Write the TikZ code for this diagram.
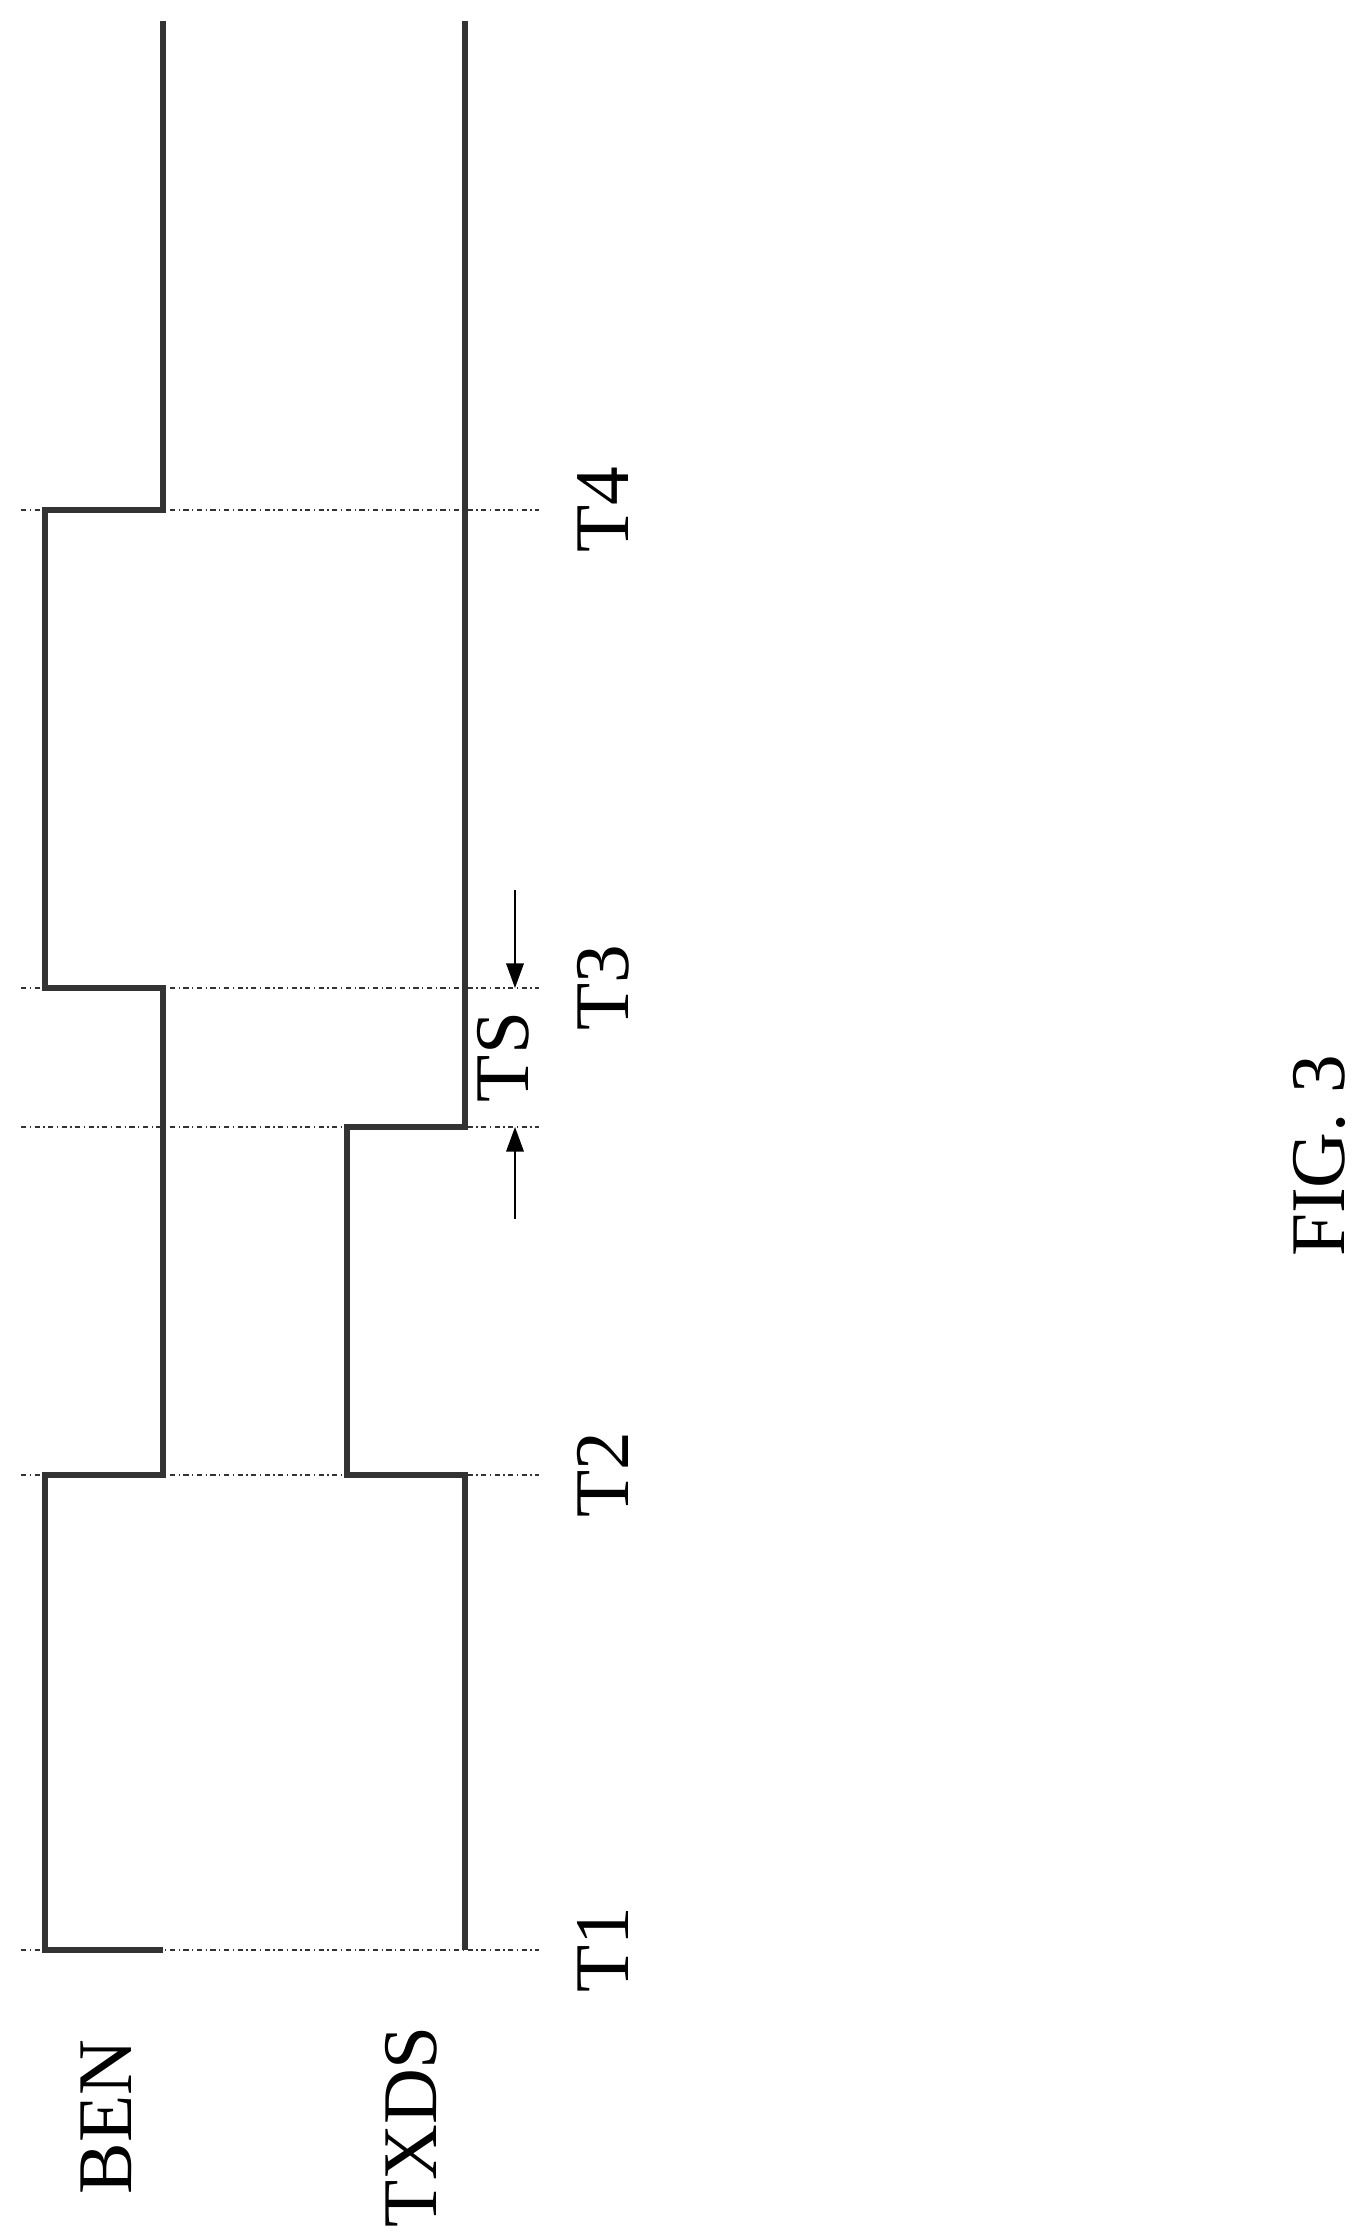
\documentclass[tikz,border=0pt]{standalone}
\usepackage{fontspec}
\setmainfont{Liberation Serif}
\usetikzlibrary{arrows.meta}

\begin{document}
\begin{tikzpicture}[x=0.2mm,y=-0.2mm]
    \tikzstyle{wave}=[line width=3.4pt,draw=black!80,line join=miter]
    \tikzstyle{timemark}=[line width=0.7pt,dash dot,draw=black!80]
    \tikzstyle{lbl}=[rotate=90,font=\fontsize{44}{44}\selectfont,inner sep=0pt]
    \tikzstyle{tsarrow}=[line width=0.9pt,-{Triangle[length=14pt,width=10pt]}]
    \useasboundingbox (0,0) rectangle (1361,2233);

    % time marks
    \foreach \name / \y in {T1/1950,T2/1475,T3/988,T4/510}{
        \draw[timemark] (21,\y) -- (539,\y);
        \node[lbl] (\name) at (603,\y) {\name};
    }
    \draw[timemark] (21,1127) -- (539,1127);

    % BEN waveform
    \draw[wave] (163,1950) -- (45,1950) -- (45,1475) -- (163,1475) -- (163,988)
        -- (45,988) -- (45,510) -- (163,510) -- (163,21);

    % TXDS waveform
    \draw[wave] (465,1950) -- (465,1475) -- (347,1475) -- (347,1127)
        -- (465,1127) -- (465,21);

    % TS interval
    \node[lbl] (TS) at (503,1057) {TS};
    \coordinate (ts-a) at (515,890);
    \coordinate (ts-b) at (515,1219);
    \coordinate (ts-a-end) at (515,988);
    \coordinate (ts-b-end) at (515,1127);
    \draw[tsarrow] (ts-a) -- (ts-a-end);
    \draw[tsarrow] (ts-b) -- (ts-b-end);

    % signal names
    \node[lbl] (BEN) at (106,2117) {BEN};
    \node[lbl] (TXDS) at (411,2127) {TXDS};
    \node[lbl] (fig) at (1319,1156) {FIG. 3};
\end{tikzpicture}
\end{document}
